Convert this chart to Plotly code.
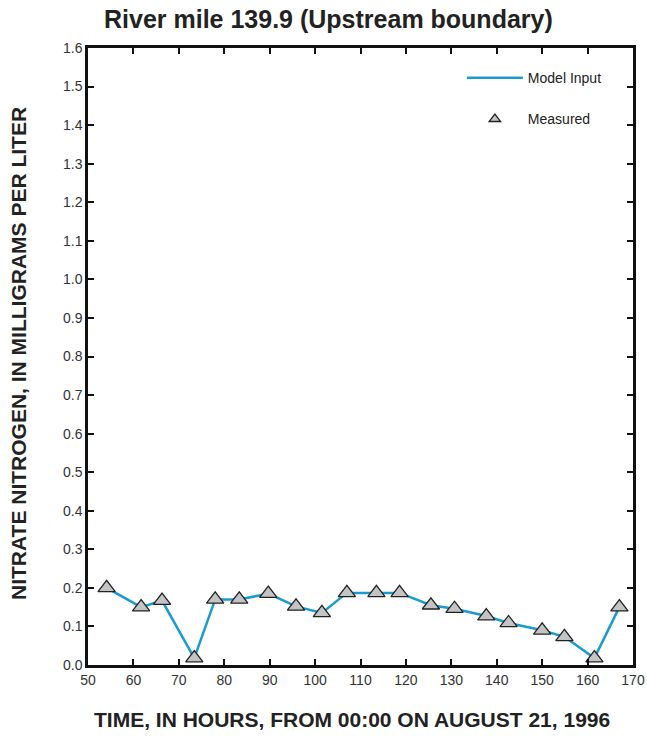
import plotly.graph_objects as go

hours = [54.1, 61.7, 66.3, 73.4, 78.0, 83.3, 89.7, 95.8, 101.5, 107.0,
         113.5, 118.6, 125.5, 130.7, 137.7, 142.6, 150.0, 154.9, 161.5, 167.0]
nitrate = [0.200, 0.150, 0.167, 0.018, 0.170, 0.170, 0.185, 0.152, 0.135, 0.187,
           0.187, 0.187, 0.155, 0.146, 0.127, 0.109, 0.090, 0.073, 0.018, 0.150]

x_ticks = list(range(50, 171, 10))
y_ticks = [round(i * 0.1, 1) for i in range(17)]

font_family = "Liberation Sans, Arial, Helvetica, sans-serif"
W, H = 647, 736
L, R, T, B = 88, 14, 48, 71

marker_style = dict(symbol="triangle-up", color="#C4C4C4",
                    line=dict(color="#222222", width=1.3))

fig = go.Figure()
fig.add_trace(go.Scatter(
    x=hours, y=nitrate, mode="lines", name="Model Input",
    line=dict(color="#1A9BD0", width=2.5), legendgroup="a",
))
fig.add_trace(go.Scatter(
    x=hours, y=nitrate, mode="markers", name="Measured",
    marker=dict(size=15, **marker_style),
    legendgroup="b", showlegend=False,
))
# legend entry for the measured points (smaller symbol, as in the reference)
fig.add_trace(go.Scatter(
    x=[None], y=[None], mode="markers", name="Measured",
    marker=dict(size=10, **marker_style),
    legendgroup="b", showlegend=True,
))

axis_common = dict(
    showline=True, linecolor="#111111", linewidth=2.5, mirror="ticks",
    ticks="inside", ticklen=6, tickwidth=2, tickcolor="#111111",
    showgrid=False, zeroline=False, automargin=False,
    tickfont=dict(family=font_family, size=14, color="#333333"),
)

fig.update_layout(
    width=W, height=H,
    margin=dict(l=L, r=R, t=T, b=B, autoexpand=False),
    paper_bgcolor="white", plot_bgcolor="white",
    title=dict(text="<b>River mile 139.9 (Upstream boundary)</b>",
               x=104 / W, xanchor="left", y=1 - 19 / H, yanchor="middle",
               font=dict(family=font_family, size=25, color="#222222")),
    xaxis=dict(range=[50, 170], tickvals=x_ticks, ticktext=[str(v) for v in x_ticks],
               **axis_common),
    yaxis=dict(range=[0, 1.6], tickvals=y_ticks, ticktext=[f"{v:.1f}" for v in y_ticks],
               **axis_common),
    legend=dict(x=0.686, y=0.977, xanchor="left", yanchor="top",
                bgcolor="rgba(0,0,0,0)", tracegroupgap=20,
                font=dict(family=font_family, size=14, color="#222222"),
                itemwidth=56),
    showlegend=True,
    annotations=[
        dict(text="<b>TIME, IN HOURS, FROM 00:00 ON AUGUST 21, 1996</b>",
             xref="paper", yref="paper", x=(352 - L) / (W - L - R),
             y=-(720 - (H - B)) / (H - T - B), xanchor="center", yanchor="middle",
             showarrow=False,
             font=dict(family=font_family, size=21, color="#222222")),
        dict(text="<b>NITRATE NITROGEN, IN MILLIGRAMS PER LITER</b>",
             xref="paper", yref="paper", x=-(L - 18) / (W - L - R),
             y=(H - B - 354) / (H - T - B), xanchor="center", yanchor="middle",
             textangle=-90, showarrow=False,
             font=dict(family=font_family, size=21, color="#222222")),
    ],
)

fig.write_html(
    "out.html",
    config={"displayModeBar": False},
    post_script="document.body.style.margin='0';document.body.style.padding='0';",
)
